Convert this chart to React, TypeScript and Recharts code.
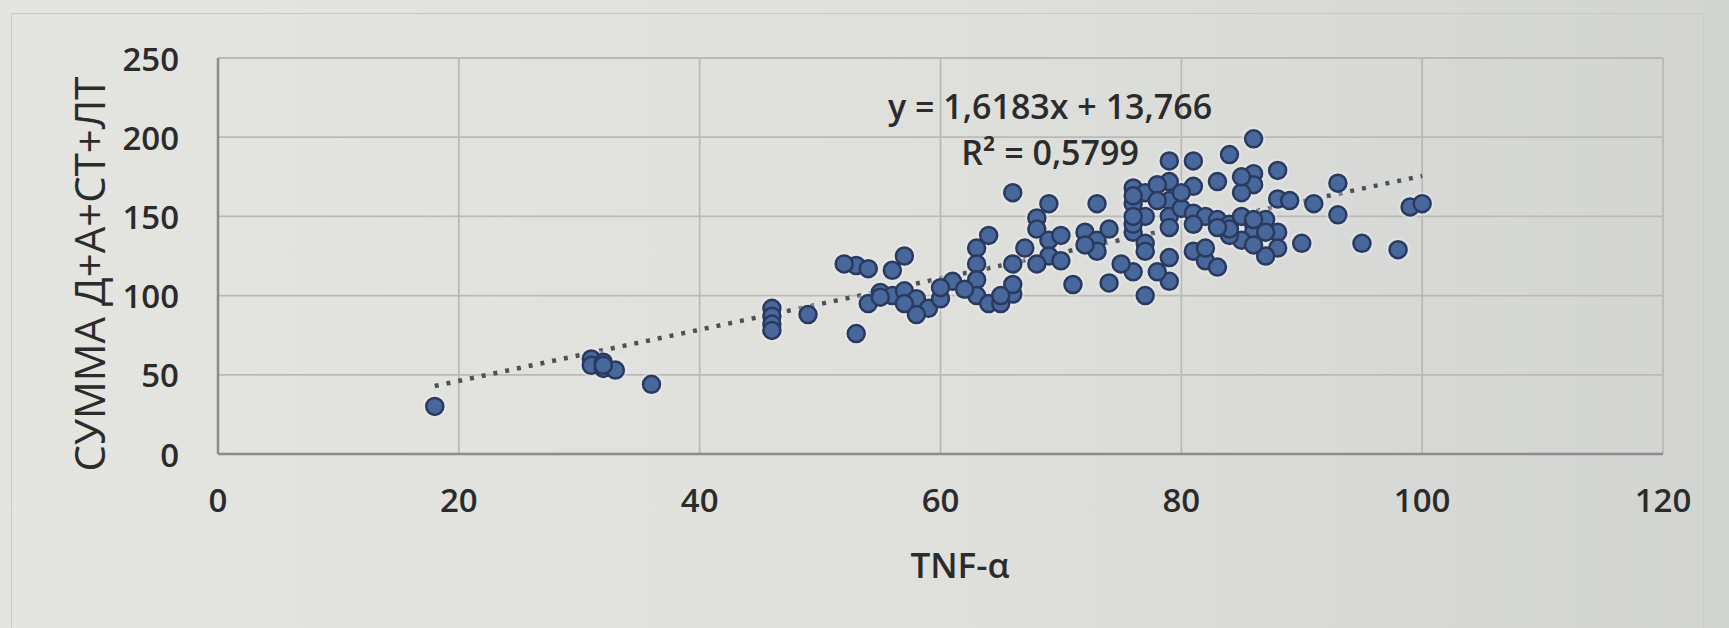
import React from 'react';
import {
  ScatterChart,
  Scatter,
  XAxis,
  YAxis,
  CartesianGrid,
  ReferenceLine,
  ReferenceDot,
  Label,
} from 'recharts';

// TNF-α values (x)
const tnfAlpha = [
  18,
  31, 31, 32, 32, 33, 32,
  36,
  46, 46, 46, 46,
  49, 53, 54,
  53, 54, 52, 56, 57,
  55, 56, 57, 58, 57, 59, 58, 55,
  60, 61, 60,
  63, 64, 63, 63, 63, 64, 62,
  66, 66, 66, 66, 65, 65,
  69, 68, 68, 69, 70, 69, 68, 70, 67,
  71,
  73, 72, 73, 74, 73, 72,
  74,
  76, 77, 76, 77, 76, 77, 77, 76, 77, 75, 76,
  79, 79, 79, 79, 79, 79, 79, 78,
  81, 81, 80, 81, 82, 83,
  83, 84, 86, 86, 86,
  88,
  84, 85, 86, 86, 87, 88, 88, 87, 85, 84, 86,
  81, 82, 83, 82,
  88, 89, 91,
  90,
  93, 93,
  95,
  98,
  99, 100,
  78, 78, 80, 85, 85, 84, 86, 87, 76, 76, 81, 83,
];

// СУММА Д+А+СТ+ЛТ values (y)
const summa = [
  30,
  60, 56, 58, 54, 53, 56,
  44,
  92, 87, 82, 78,
  88, 76, 95,
  119, 117, 120, 116, 125,
  102, 100, 103, 98, 95, 92, 88, 99,
  98, 109, 105,
  130, 138, 120, 110, 100, 95, 104,
  165, 120, 101, 107, 95, 100,
  158, 149, 142, 135, 138, 125, 120, 122, 130,
  107,
  158, 140, 135, 142, 128, 132,
  108,
  168, 165, 158, 150, 140, 133, 128, 115, 100, 120, 145,
  185, 172, 160, 150, 143, 124, 109, 115,
  185, 169, 155, 152, 150, 148,
  172, 189, 199, 177, 170,
  179,
  145, 150, 145, 140, 148, 140, 130, 125, 135, 138, 132,
  128, 122, 118, 130,
  161, 160, 158,
  133,
  171, 151,
  133,
  129,
  156, 158,
  170, 160, 165, 165, 175, 142, 148, 140, 150, 163, 145, 143,
];

const xTicks = [0, 20, 40, 60, 80, 100, 120];
const yTicks = [0, 50, 100, 150, 200, 250];

const trendSlope = 1.6183;
const trendIntercept = 13.766;
const equationText = 'y = 1,6183x + 13,766';
const r2Text = 'R² = 0,5799';
const xTitle = 'TNF-α';
const yTitle = 'СУММА Д+А+СТ+ЛТ';

const points = tnfAlpha.map((x, i) => ({ x, y: summa[i] }));
const xMin = Math.min(...tnfAlpha);
const xMax = Math.max(...tnfAlpha);

const FONT = '"Open Sans", "DejaVu Sans", sans-serif';
const TEXT = '#2b2b2b';

if (typeof document !== 'undefined') {
  document.body.style.margin = '0';
}

const XTick = (props: any) => {
  const { x, y, payload } = props;
  return (
    <text
      x={x}
      y={y + 45}
      textAnchor="middle"
      dominantBaseline="central"
      fontFamily={FONT}
      fontWeight={600}
      fontSize={33}
      fill={TEXT}
    >
      {payload.value}
    </text>
  );
};

const YTick = (props: any) => {
  const { x, y, payload } = props;
  return (
    <text
      x={x - 39}
      y={y}
      textAnchor="end"
      dominantBaseline="central"
      fontFamily={FONT}
      fontWeight={600}
      fontSize={33}
      fill={TEXT}
    >
      {payload.value}
    </text>
  );
};

const Dot = (props: any) => {
  const { cx, cy } = props;
  return <circle cx={cx} cy={cy} r={8.5} fill="#48679a" stroke="#2a3a5e" strokeWidth={2.5} />;
};

const Halo = (props: any) => {
  const { cx, cy } = props;
  return <circle cx={cx} cy={cy} r={12} fill="#eef2f5" fillOpacity={0.35} />;
};

export default function App() {
  return (
    <div
      style={{
        position: 'relative',
        width: 1729,
        height: 628,
        overflow: 'hidden',
        background: 'linear-gradient(90deg, #e4e5e0 0%, #dfe0dc 55%, #d2d4d2 100%)',
      }}
    >
      <div
        style={{
          position: 'absolute',
          left: 11,
          top: 13,
          width: 1693,
          height: 640,
          border: '1.5px solid #c9cac6',
          boxSizing: 'border-box',
        }}
      />
      <div style={{ position: 'absolute', left: 0, top: 0 }}>
        <ScatterChart
          width={1729}
          height={628}
          margin={{ top: 58, right: 66, bottom: 0, left: 0 }}
        >
          <CartesianGrid stroke="#b9bab6" strokeWidth={1.8} />
          <XAxis
            type="number"
            dataKey="x"
            domain={[0, 120]}
            ticks={xTicks}
            height={174}
            tickSize={0}
            tickMargin={0}
            tickLine={false}
            axisLine={{ stroke: '#8c8d8a', strokeWidth: 2.5 }}
            tick={<XTick />}
          >
            <Label
              content={() => (
                <text
                  x={960}
                  y={564}
                  textAnchor="middle"
                  dominantBaseline="central"
                  fontFamily={FONT}
                  fontWeight={600}
                  fontSize={35}
                  fill={TEXT}
                >
                  {xTitle}
                </text>
              )}
            />
          </XAxis>
          <YAxis
            type="number"
            dataKey="y"
            domain={[0, 250]}
            ticks={yTicks}
            width={218}
            tickSize={0}
            tickMargin={0}
            tickLine={false}
            axisLine={{ stroke: '#8c8d8a', strokeWidth: 2.5 }}
            tick={<YTick />}
          >
            <Label
              content={() => (
                <text
                  transform="translate(88,274) rotate(-90)"
                  textAnchor="middle"
                  dominantBaseline="central"
                  fontFamily={FONT}
                  fontWeight={400}
                  fontSize={42}
                  fill={TEXT}
                >
                  {yTitle}
                </text>
              )}
            />
          </YAxis>
          <ReferenceLine
            segment={[
              { x: xMin, y: trendSlope * xMin + trendIntercept },
              { x: xMax, y: trendSlope * xMax + trendIntercept },
            ]}
            stroke="#4c5158"
            strokeWidth={4.5}
            strokeDasharray="4 8"
          />
          <Scatter data={points} shape={<Halo />} isAnimationActive={false} />
          <Scatter data={points} shape={<Dot />} isAnimationActive={false} />
          <ReferenceDot x={69.1} y={219.5} r={0} fill="none" stroke="none">
            <Label
              content={(p: any) => {
                const vb = p.viewBox || { x: 0, y: 0 };
                return (
                  <g>
                    <text
                      x={vb.x}
                      y={vb.y}
                      textAnchor="middle"
                      dominantBaseline="central"
                      fontFamily={FONT}
                      fontWeight={600}
                      fontSize={34}
                      fill={TEXT}
                    >
                      {equationText}
                    </text>
                    <text
                      x={vb.x}
                      y={vb.y + 46}
                      textAnchor="middle"
                      dominantBaseline="central"
                      fontFamily={FONT}
                      fontWeight={600}
                      fontSize={34}
                      fill={TEXT}
                    >
                      {r2Text}
                    </text>
                  </g>
                );
              }}
            />
          </ReferenceDot>
        </ScatterChart>
      </div>
    </div>
  );
}
